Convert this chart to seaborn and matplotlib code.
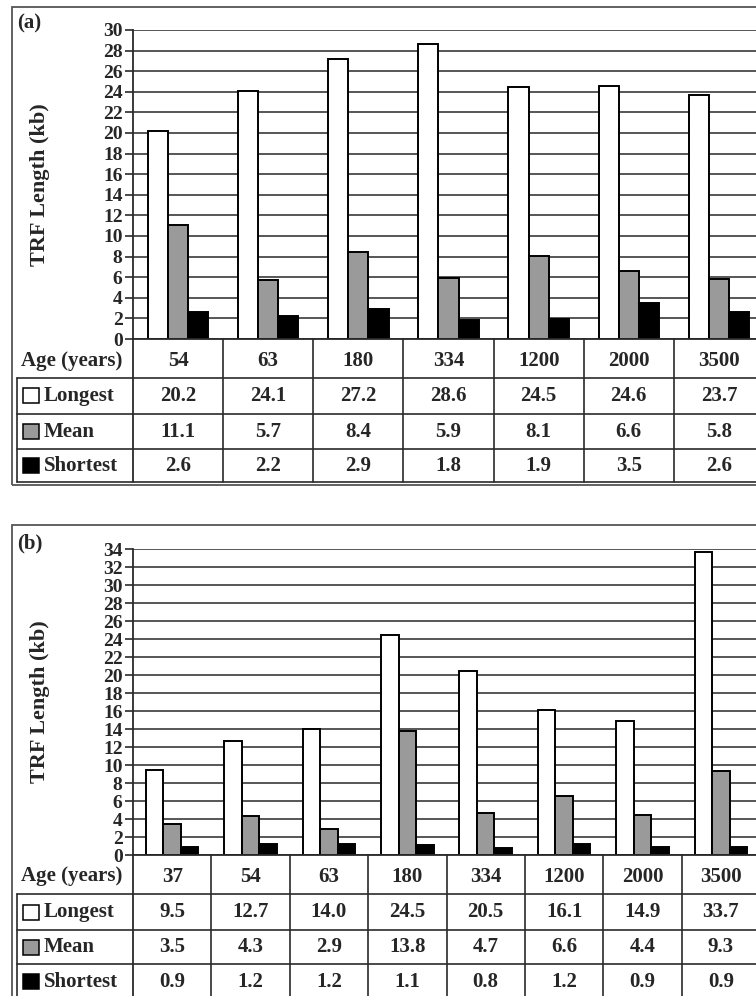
import pandas as pd
import seaborn as sns
import matplotlib.pyplot as plt
from matplotlib.lines import Line2D
from matplotlib.patches import Rectangle
from matplotlib import transforms

# ---- data -------------------------------------------------------------
ages_a = ["54", "63", "180", "334", "1200", "2000", "3500"]
longest_a = [20.2, 24.1, 27.2, 28.6, 24.5, 24.6, 23.7]
mean_a = [11.1, 5.7, 8.4, 5.9, 8.1, 6.6, 5.8]
shortest_a = [2.6, 2.2, 2.9, 1.8, 1.9, 3.5, 2.6]

ages_b = ["37", "54", "63", "180", "334", "1200", "2000", "3500"]
longest_b = [9.5, 12.7, 14.0, 24.5, 20.5, 16.1, 14.9, 33.7]
mean_b = [3.5, 4.3, 2.9, 13.8, 4.7, 6.6, 4.4, 9.3]
shortest_b = [0.9, 1.2, 1.2, 1.1, 0.8, 1.2, 0.9, 0.9]

measures = ["Longest", "Mean", "Shortest"]
fills = ["white", "#9a9a9a", "black"]

# ---- style ------------------------------------------------------------
sns.set_theme(style="white")
plt.rcParams["font.family"] = ["Liberation Serif", "DejaVu Serif"]
plt.rcParams["font.weight"] = "bold"

W, H = 756, 996
fig = plt.figure(figsize=(W / 100, H / 100), dpi=100)
fig.patch.set_facecolor("white")

LINE = "#2a2a2a"
FS = 15
FS_TICK = 14
FS_LABEL = 16


def fx(px):
    return px / W


def fy(py):
    return 1 - py / H


def hline(x0, x1, y, lw=1.2, color=LINE):
    fig.add_artist(Line2D([fx(x0), fx(x1)], [fy(y), fy(y)],
                          transform=fig.transFigure, color=color, lw=lw))


def vline(x, y0, y1, lw=1.2, color=LINE):
    fig.add_artist(Line2D([fx(x), fx(x)], [fy(y0), fy(y1)],
                          transform=fig.transFigure, color=color, lw=lw))


def draw_panel(tag, ages, longest, mean, shortest, ymax, g):
    n = len(ages)
    df = pd.DataFrame({
        "Age": ages * 3,
        "Measure": [m for m in measures for _ in ages],
        "Value": longest + mean + shortest,
    })

    # outer frame of the panel
    x0, y0, x1, y1 = g["frame"]
    fig.add_artist(Rectangle((fx(x0), fy(y1)), fx(x1) - fx(x0), fy(y0) - fy(y1),
                             transform=fig.transFigure, fill=False,
                             edgecolor="#555555", lw=1.3))
    fig.text(fx(g["frame"][0] + 5), fy(g["tag_y"]), tag, ha="left",
             va="center", fontsize=FS, fontweight="bold")

    left, right, top, zero = g["left"], g["right"], g["top"], g["zero"]
    ax = fig.add_axes([fx(left), fy(zero), (right - left) / W, (zero - top) / H])
    sns.barplot(data=df, x="Age", y="Value", hue="Measure", order=ages,
                hue_order=measures, palette=fills, saturation=1, width=0.67,
                edgecolor="black", linewidth=1.4, errorbar=None, legend=False,
                ax=ax)
    ax.set_xlim(-0.5, n - 0.5)
    ax.set_ylim(0, ymax)
    ax.set_yticks(range(0, ymax + 1, 2))
    ax.set_xticks([])
    ax.set_xlabel("")
    ax.set_ylabel("")
    ax.set_facecolor("white")
    ax.grid(axis="y", color="#3a3a3a", lw=1.2)
    ax.set_axisbelow(True)
    for s in ("top", "right"):
        ax.spines[s].set_visible(False)
    for s in ("left", "bottom"):
        ax.spines[s].set_color(LINE)
        ax.spines[s].set_linewidth(1.3)
    ax.tick_params(axis="y", left=True, length=6, width=1.2, color=LINE,
                   labelsize=FS_TICK, pad=1.5)
    for lab in ax.get_yticklabels():
        lab.set_fontweight("bold")

    fig.text(fx(40), fy((top + zero) / 2), "TRF Length (kb)", rotation=90,
             ha="center", va="center", fontsize=FS_LABEL, fontweight="bold")

    # data table under the bars
    rows = g["rows"]
    trans = transforms.blended_transform_factory(ax.transData, fig.transFigure)
    age_y = (rows[0] + rows[1]) / 2 + 2
    fig.text(fx(21), fy(age_y), "Age (years)", ha="left",
             va="center", fontsize=FS, fontweight="bold")
    for i, a in enumerate(ages):
        ax.text(i, fy(age_y), a, transform=trans,
                ha="center", va="center", fontsize=FS, fontweight="bold",
                clip_on=False)
    series = [longest, mean, shortest]
    for r, (name, vals, fc) in enumerate(zip(measures, series, fills)):
        yc = (rows[r + 1] + rows[r + 2]) / 2
        fig.add_artist(Rectangle((fx(23), fy(yc + 7.5)), 16 / W, 15 / H,
                                 transform=fig.transFigure, facecolor=fc,
                                 edgecolor="black", lw=1.1))
        fig.text(fx(44), fy(yc), name, ha="left", va="center",
                 fontsize=FS, fontweight="bold")
        for i, v in enumerate(vals):
            ax.text(i, fy(yc), f"{v:.1f}", transform=trans, ha="center",
                    va="center", fontsize=FS, fontweight="bold", clip_on=False)

    for yr in rows[1:]:
        hline(17, 780, yr)
    vline(17, rows[1], rows[-1])
    vline(left, zero, rows[-1], lw=1.3)
    for i in range(n):
        ax.plot([i + 0.5, i + 0.5], [fy(rows[0]), fy(rows[-1])],
                transform=trans, color=LINE, lw=1.2, clip_on=False)


draw_panel("(a)", ages_a, longest_a, mean_a, shortest_a, 30, dict(
    frame=(12, 7, 790, 485), tag_y=23, left=133, right=764, top=30, zero=339,
    rows=[339, 378, 414, 449, 482]))

draw_panel("(b)", ages_b, longest_b, mean_b, shortest_b, 34, dict(
    frame=(12, 525, 790, 1010), tag_y=543, left=133, right=760, top=549,
    zero=855, rows=[855, 894, 930, 964, 999]))

fig.savefig("out.png", dpi=100, facecolor="white")
